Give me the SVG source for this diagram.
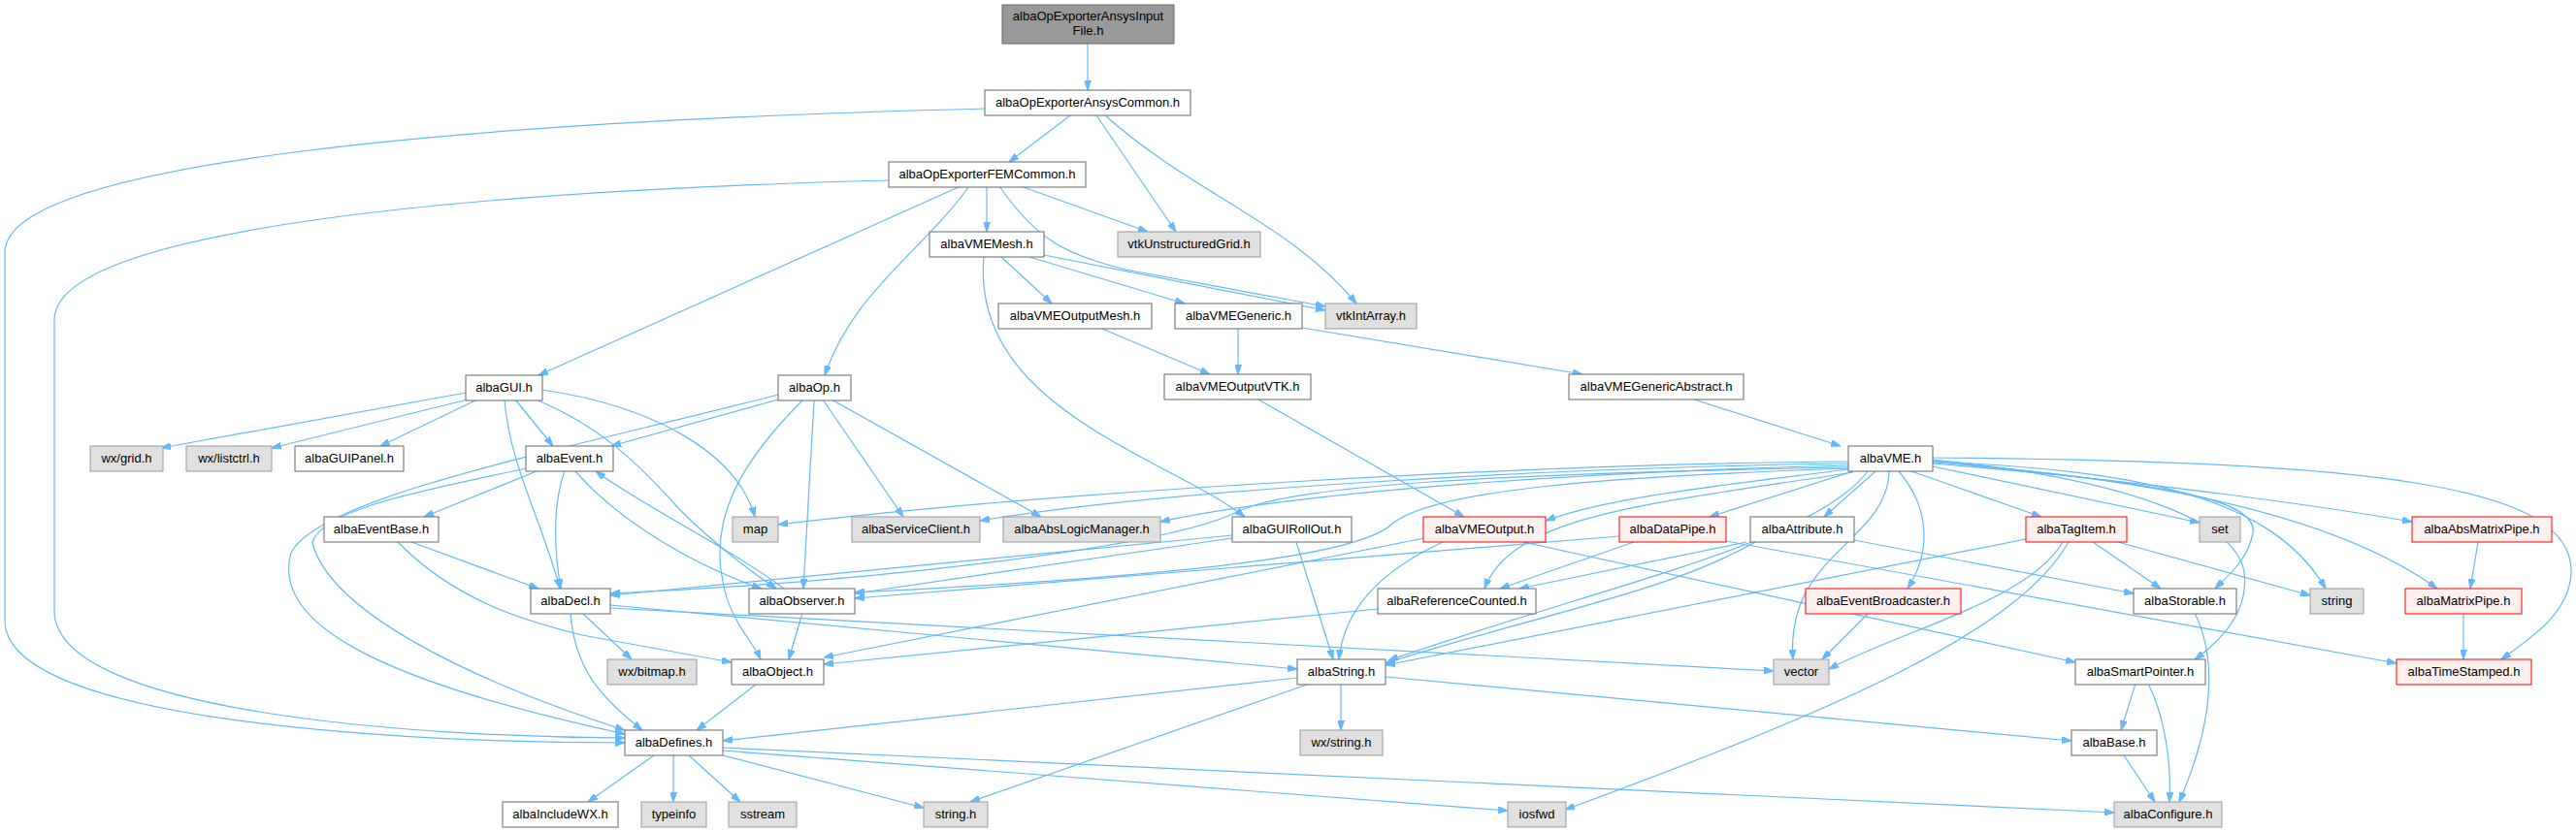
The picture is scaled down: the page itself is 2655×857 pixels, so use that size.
<svg xmlns="http://www.w3.org/2000/svg" width="2655" height="857" viewBox="0 0 2655 857">
<style>
.n rect{fill:#fff;stroke:#666;stroke-width:1}
.g rect{fill:#E0E0E0;stroke:#999;stroke-width:1}
.r rect{fill:#FFF0F0;stroke:#F00;stroke-width:1}
.root rect{fill:#999;stroke:#666;stroke-width:1}
text{font-family:"Liberation Sans",Arial,sans-serif;font-size:13px;fill:#000;text-anchor:middle}
#edges path{fill:none;stroke:#63B8FF;stroke-width:1.2;marker-end:url(#ah)}
</style>
<defs>
<marker id="ah" viewBox="0 0 10 7" refX="10" refY="3.5" markerWidth="10" markerHeight="7" markerUnits="userSpaceOnUse" orient="auto">
<path d="M0,0 L10,3.5 L0,7 z" fill="#63B8FF" stroke="#63B8FF"/>
</marker>
</defs>
<rect width="2655" height="857" fill="#fff"/>
<g id="edges">
<path d="M1121,45 L1121,93"/>
<path d="M1103,119 L1040,167"/>
<path d="M1130,119 L1212,239"/>
<path d="M1139,119 C1230,200 1330,230 1398,313"/>
<path d="M1015,112 C500,125 5,165 5,260 L5,640 C5,745 420,766 644,766"/>
<path d="M916,186 C450,198 56,240 56,330 L56,630 C56,735 430,760 644,761"/>
<path d="M1017,192 L1017,239"/>
<path d="M1052,192 L1183,239"/>
<path d="M1030,192 C1070,250 1100,262 1160,278 L1366,316"/>
<path d="M990,192 L555,387"/>
<path d="M999,192 C950,260 880,300 850,387"/>
<path d="M1014,265 C1000,420 1200,470 1283,533"/>
<path d="M1032,265 L1084,313"/>
<path d="M1061,265 L1221,313"/>
<path d="M1076,263 L1366,320"/>
<path d="M1136,339 L1247,386"/>
<path d="M1276,339 L1276,386"/>
<path d="M1342,338 L1631,386"/>
<path d="M1297,412 L1509,533"/>
<path d="M1746,412 L1897,460"/>
<path d="M480,405 L166,462"/>
<path d="M482,412 L280,462"/>
<path d="M492,412 L392,460"/>
<path d="M531,412 L570,460"/>
<path d="M520,412 C525,480 560,540 577,607"/>
<path d="M552,412 C620,440 660,480 700,525 C740,565 775,590 800,607"/>
<path d="M559,402 C680,420 760,470 778,533"/>
<path d="M802,412 L630,460"/>
<path d="M802,407 C600,460 330,510 300,570 C280,640 380,700 644,757"/>
<path d="M827,413 C770,470 730,530 745,600 C752,640 775,660 784,680"/>
<path d="M839,413 L828,607"/>
<path d="M848,412 L931,533"/>
<path d="M857,412 L1073,533"/>
<path d="M553,486 L437,533"/>
<path d="M542,483 C440,505 330,525 322,560 C340,630 480,700 644,753"/>
<path d="M582,485 C570,520 570,560 578,607"/>
<path d="M593,486 C640,540 720,585 785,607"/>
<path d="M808,607 C760,570 660,520 614,486"/>
<path d="M424,559 L555,607"/>
<path d="M410,559 C470,620 540,640 600,655 L754,683"/>
<path d="M600,632 L651,680"/>
<path d="M588,632 C592,690 620,720 662,753"/>
<path d="M629,624 L1337,690"/>
<path d="M629,627 L1828,692"/>
<path d="M827,632 L813,680"/>
<path d="M780,705 L718,753"/>
<path d="M1382,705 L1382,753"/>
<path d="M1350,705 L1000,827"/>
<path d="M1337,699 L745,764"/>
<path d="M1428,698 L2135,764"/>
<path d="M674,779 L606,827"/>
<path d="M694,779 L694,827"/>
<path d="M710,779 L763,827"/>
<path d="M745,779 L952,833"/>
<path d="M745,774 L1554,836"/>
<path d="M745,771 L2179,838"/>
<path d="M1420,628 L849,685"/>
<path d="M1468,555 L849,678"/>
<path d="M1487,559 C1420,590 1385,630 1380,680"/>
<path d="M1570,559 L2139,683"/>
<path d="M1336,559 L1374,680"/>
<path d="M1270,552 L629,614"/>
<path d="M1270,555 L881,612"/>
<path d="M1669,553 L881,617"/>
<path d="M1684,559 L1546,607"/>
<path d="M1779,558 L2470,684"/>
<path d="M1800,559 L1566,607"/>
<path d="M1809,559 C1720,610 1600,630 1428,684"/>
<path d="M1911,557 L2199,612"/>
<path d="M1905,476 C1600,478 1100,505 802,541"/>
<path d="M1905,478 C1600,482 1200,505 1010,537"/>
<path d="M1905,480 C1650,486 1350,505 1196,538"/>
<path d="M1905,482 C1550,488 1330,500 1275,528 C1200,565 900,600 629,612"/>
<path d="M1905,483 C1650,492 1480,505 1435,540 C1400,575 1200,595 881,611"/>
<path d="M1905,484 C1780,500 1660,512 1593,537"/>
<path d="M1910,486 L1762,533"/>
<path d="M1933,486 L1880,533"/>
<path d="M1910,487 C1700,520 1560,530 1530,607"/>
<path d="M1947,486 C1945,560 1840,570 1848,680"/>
<path d="M1957,486 C1990,525 1990,570 1966,607"/>
<path d="M1925,486 C1870,560 1650,605 1431,681"/>
<path d="M1970,486 L2104,533"/>
<path d="M1992,481 L2267,539"/>
<path d="M1992,478 C2200,495 2380,520 2486,538"/>
<path d="M1992,477 C2250,495 2420,540 2512,607"/>
<path d="M1992,476 C2200,485 2340,510 2397,607"/>
<path d="M1992,475 C2160,495 2330,505 2322,550 C2316,578 2298,592 2283,607"/>
<path d="M1992,474 C2200,495 2305,540 2313,590 C2318,630 2290,660 2262,680"/>
<path d="M1992,472 C2450,476 2652,500 2650,590 C2649,630 2612,656 2578,680"/>
<path d="M2157,559 L2227,607"/>
<path d="M2183,559 L2381,614"/>
<path d="M2126,559 C2090,620 1960,650 1885,690"/>
<path d="M2132,559 C2080,650 1900,730 1613,835"/>
<path d="M2088,556 L1428,686"/>
<path d="M1926,632 L1878,680"/>
<path d="M2554,559 L2546,607"/>
<path d="M2539,632 L2539,680"/>
<path d="M2201,705 L2186,753"/>
<path d="M2214,705 C2232,740 2238,790 2236,827"/>
<path d="M2189,779 L2221,827"/>
<path d="M2262,632 C2290,690 2275,760 2246,827"/>
</g>
<g id="nodes">
<g id="n_inputfile" class="root"><rect x="1033" y="5" width="177" height="40"/><text x="1121.5" y="21">albaOpExporterAnsysInput</text><text x="1121.5" y="36">File.h</text></g>
<g id="n_ansyscommon" class="n"><rect x="1015" y="93" width="212" height="26"/><text x="1121" y="110">albaOpExporterAnsysCommon.h</text></g>
<g id="n_femcommon" class="n"><rect x="916" y="167" width="203" height="26"/><text x="1017.5" y="184">albaOpExporterFEMCommon.h</text></g>
<g id="n_vmemesh" class="n"><rect x="958" y="239" width="118" height="26"/><text x="1017" y="256">albaVMEMesh.h</text></g>
<g id="n_vtkug" class="g"><rect x="1152" y="239" width="147" height="26"/><text x="1225.5" y="256">vtkUnstructuredGrid.h</text></g>
<g id="n_vmeoutputmesh" class="n"><rect x="1029" y="313" width="158" height="26"/><text x="1108" y="330">albaVMEOutputMesh.h</text></g>
<g id="n_vmegeneric" class="n"><rect x="1211" y="313" width="131" height="26"/><text x="1276.5" y="330">albaVMEGeneric.h</text></g>
<g id="n_vtkintarray" class="g"><rect x="1366" y="313" width="94" height="26"/><text x="1413" y="330">vtkIntArray.h</text></g>
<g id="n_vmeoutputvtk" class="n"><rect x="1200" y="386" width="151" height="26"/><text x="1275.5" y="403">albaVMEOutputVTK.h</text></g>
<g id="n_vmegenericabstract" class="n"><rect x="1617" y="386" width="180" height="26"/><text x="1707" y="403">albaVMEGenericAbstract.h</text></g>
<g id="n_gui" class="n"><rect x="480" y="387" width="79" height="26"/><text x="519.5" y="404">albaGUI.h</text></g>
<g id="n_op" class="n"><rect x="802" y="387" width="75" height="26"/><text x="839.5" y="404">albaOp.h</text></g>
<g id="n_vme" class="n"><rect x="1905" y="460" width="87" height="26"/><text x="1948.5" y="477">albaVME.h</text></g>
<g id="n_wxgrid" class="g"><rect x="93" y="460" width="75" height="26"/><text x="130.5" y="477">wx/grid.h</text></g>
<g id="n_wxlistctrl" class="g"><rect x="192" y="460" width="88" height="26"/><text x="236" y="477">wx/listctrl.h</text></g>
<g id="n_guipanel" class="n"><rect x="304" y="460" width="112" height="26"/><text x="360" y="477">albaGUIPanel.h</text></g>
<g id="n_event" class="n"><rect x="542" y="460" width="90" height="26"/><text x="587" y="477">albaEvent.h</text></g>
<g id="n_eventbase" class="n"><rect x="334" y="533" width="118" height="26"/><text x="393" y="550">albaEventBase.h</text></g>
<g id="n_map" class="g"><rect x="755" y="533" width="47" height="26"/><text x="778.5" y="550">map</text></g>
<g id="n_serviceclient" class="g"><rect x="878" y="533" width="132" height="26"/><text x="944" y="550">albaServiceClient.h</text></g>
<g id="n_abslogicmanager" class="g"><rect x="1034" y="533" width="162" height="26"/><text x="1115" y="550">albaAbsLogicManager.h</text></g>
<g id="n_guirollout" class="n"><rect x="1270" y="533" width="123" height="26"/><text x="1331.5" y="550">albaGUIRollOut.h</text></g>
<g id="n_vmeoutput" class="r"><rect x="1467" y="533" width="126" height="26"/><text x="1530" y="550">albaVMEOutput.h</text></g>
<g id="n_datapipe" class="r"><rect x="1669" y="533" width="110" height="26"/><text x="1724" y="550">albaDataPipe.h</text></g>
<g id="n_attribute" class="n"><rect x="1804" y="533" width="107" height="26"/><text x="1857.5" y="550">albaAttribute.h</text></g>
<g id="n_tagitem" class="r"><rect x="2088" y="533" width="104" height="26"/><text x="2140" y="550">albaTagItem.h</text></g>
<g id="n_set" class="g"><rect x="2267" y="533" width="42" height="26"/><text x="2288" y="550">set</text></g>
<g id="n_absmatrixpipe" class="r"><rect x="2486" y="533" width="144" height="26"/><text x="2558" y="550">albaAbsMatrixPipe.h</text></g>
<g id="n_decl" class="n"><rect x="547" y="607" width="82" height="26"/><text x="588" y="624">albaDecl.h</text></g>
<g id="n_observer" class="n"><rect x="772" y="607" width="109" height="26"/><text x="826.5" y="624">albaObserver.h</text></g>
<g id="n_refcounted" class="n"><rect x="1420" y="607" width="163" height="26"/><text x="1501.5" y="624">albaReferenceCounted.h</text></g>
<g id="n_eventbroadcaster" class="r"><rect x="1861" y="607" width="160" height="26"/><text x="1941" y="624">albaEventBroadcaster.h</text></g>
<g id="n_storable" class="n"><rect x="2199" y="607" width="106" height="26"/><text x="2252" y="624">albaStorable.h</text></g>
<g id="n_string" class="g"><rect x="2381" y="607" width="55" height="26"/><text x="2408.5" y="624">string</text></g>
<g id="n_matrixpipe" class="r"><rect x="2479" y="607" width="120" height="26"/><text x="2539" y="624">albaMatrixPipe.h</text></g>
<g id="n_wxbitmap" class="g"><rect x="626" y="680" width="92" height="26"/><text x="672" y="697">wx/bitmap.h</text></g>
<g id="n_object" class="n"><rect x="754" y="680" width="95" height="26"/><text x="801.5" y="697">albaObject.h</text></g>
<g id="n_albastring" class="n"><rect x="1337" y="680" width="91" height="26"/><text x="1382.5" y="697">albaString.h</text></g>
<g id="n_vector" class="g"><rect x="1828" y="680" width="57" height="26"/><text x="1856.5" y="697">vector</text></g>
<g id="n_smartpointer" class="n"><rect x="2139" y="680" width="134" height="26"/><text x="2206" y="697">albaSmartPointer.h</text></g>
<g id="n_timestamped" class="r"><rect x="2470" y="680" width="139" height="26"/><text x="2539.5" y="697">albaTimeStamped.h</text></g>
<g id="n_defines" class="n"><rect x="644" y="753" width="101" height="26"/><text x="694.5" y="770">albaDefines.h</text></g>
<g id="n_wxstring" class="g"><rect x="1340" y="753" width="85" height="26"/><text x="1382.5" y="770">wx/string.h</text></g>
<g id="n_base" class="n"><rect x="2135" y="753" width="88" height="26"/><text x="2179" y="770">albaBase.h</text></g>
<g id="n_includewx" class="n"><rect x="518" y="827" width="119" height="26"/><text x="577.5" y="844">albaIncludeWX.h</text></g>
<g id="n_typeinfo" class="g"><rect x="661" y="827" width="67" height="26"/><text x="694.5" y="844">typeinfo</text></g>
<g id="n_sstream" class="g"><rect x="751" y="827" width="70" height="26"/><text x="786" y="844">sstream</text></g>
<g id="n_stringh" class="g"><rect x="952" y="827" width="66" height="26"/><text x="985" y="844">string.h</text></g>
<g id="n_iosfwd" class="g"><rect x="1554" y="827" width="60" height="26"/><text x="1584" y="844">iosfwd</text></g>
<g id="n_configure" class="g"><rect x="2179" y="827" width="111" height="26"/><text x="2234.5" y="844">albaConfigure.h</text></g>
</g>
</svg>
